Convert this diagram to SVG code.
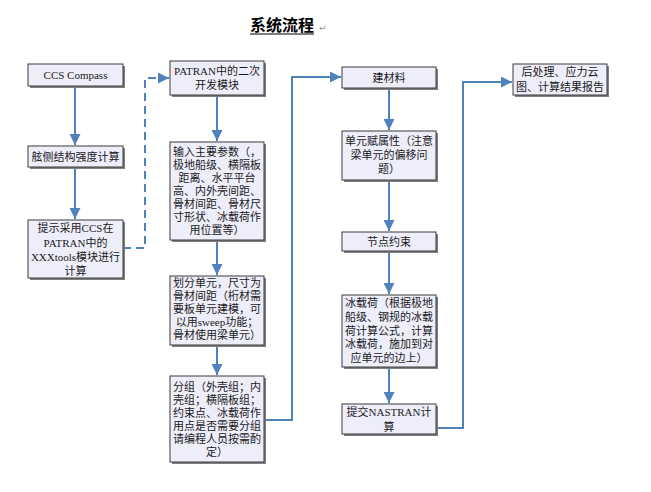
<svg xmlns="http://www.w3.org/2000/svg" width="651" height="492" viewBox="0 0 651 492">
<style>
.box{fill:#eeeefa;stroke:#3a3a3a;stroke-width:1}
.sh{fill:#7f7f7f}
.t{font-family:"Liberation Serif","Noto Sans CJK SC",serif;font-size:11px;fill:#1a1a1a;text-anchor:middle}
.c{fill:none;stroke:#4f81bd;stroke-width:2}
.d{fill:none;stroke:#4f81bd;stroke-width:2;stroke-dasharray:8,5}
</style>
<defs>
<marker id="ah" viewBox="0 0 10 10" refX="10" refY="5" markerWidth="5.5" markerHeight="5.5" orient="auto" markerUnits="strokeWidth">
<path d="M0,0 L10,5 L0,10 z" fill="#4f81bd"/>
</marker>
</defs>
<rect width="651" height="492" fill="#ffffff"/>
<g id="title">
<text x="282" y="31" font-family="'Noto Sans CJK SC','Liberation Serif',serif" font-size="16" font-weight="bold" text-anchor="middle" fill="#000">系统流程</text>
<line x1="250" y1="34" x2="314" y2="34" stroke="#000" stroke-width="1.2"/>
<text x="319" y="31" font-family="'DejaVu Sans',sans-serif" font-size="9" fill="#999">↵</text>
</g>
<g id="connectors">
<path class="c" d="M75,87 V145" marker-end="url(#ah)"/>
<path class="c" d="M75,168 V219" marker-end="url(#ah)"/>
<path class="d" d="M123,248 H145 V78 H169" marker-end="url(#ah)"/>
<path class="c" d="M217,96 V141" marker-end="url(#ah)"/>
<path class="c" d="M217,241 V275" marker-end="url(#ah)"/>
<path class="c" d="M217,346 V375" marker-end="url(#ah)"/>
<path class="c" d="M265,420 H292 V77 H341" marker-end="url(#ah)"/>
<path class="c" d="M389,89 V130" marker-end="url(#ah)"/>
<path class="c" d="M389,181 V231" marker-end="url(#ah)"/>
<path class="c" d="M389,252 V294" marker-end="url(#ah)"/>
<path class="c" d="M389,368 V403" marker-end="url(#ah)"/>
<path class="c" d="M437,428 H463 V82 H512" marker-end="url(#ah)"/>
</g>
<g id="n1"><rect class="sh" x="30" y="66" width="95" height="22"/><rect class="box" x="28" y="64" width="95" height="22"/>
<text class="t" x="75.5" y="79">CCS Compass</text></g>
<g id="n2"><rect class="sh" x="30" y="148" width="95" height="21"/><rect class="box" x="28" y="146" width="95" height="21"/>
<text class="t" x="75.5" y="160.5">舷侧结构强度计算</text></g>
<g id="n3"><rect class="sh" x="30" y="222" width="95" height="58"/><rect class="box" x="28" y="220" width="95" height="58"/>
<text class="t" x="75.5" y="232">提示采用CCS在</text>
<text class="t" x="75.5" y="246.5">PATRAN中的</text>
<text class="t" x="75.5" y="261">XXXtools模块进行</text>
<text class="t" x="75.5" y="274.5">计算</text></g>
<g id="n4"><rect class="sh" x="172" y="63" width="94" height="34"/><rect class="box" x="170" y="61" width="94" height="34"/>
<text class="t" x="217" y="75">PATRAN中的二次</text>
<text class="t" x="217" y="89">开发模块</text></g>
<g id="n5"><rect class="sh" x="172" y="144" width="94" height="98"/><rect class="box" x="170" y="142" width="94" height="98"/>
<text class="t" x="217" y="156">输入主要参数（，</text>
<text class="t" x="217" y="169">极地船级、横隔板</text>
<text class="t" x="217" y="182">距离、水平平台</text>
<text class="t" x="217" y="195">高、内外壳间距、</text>
<text class="t" x="217" y="208">骨材间距、骨材尺</text>
<text class="t" x="217" y="221">寸形状、冰载荷作</text>
<text class="t" x="217" y="234">用位置等）</text></g>
<g id="n6"><rect class="sh" x="172" y="278" width="94" height="69"/><rect class="box" x="170" y="276" width="94" height="69"/>
<text class="t" x="217" y="287">划分单元，尺寸为</text>
<text class="t" x="217" y="300">骨材间距（桁材需</text>
<text class="t" x="217" y="313">要板单元建模，可</text>
<text class="t" x="217" y="326">以用sweep功能；</text>
<text class="t" x="217" y="339">骨材使用梁单元）</text></g>
<g id="n7"><rect class="sh" x="172" y="378" width="94" height="86"/><rect class="box" x="170" y="376" width="94" height="86"/>
<text class="t" x="217" y="391">分组（外壳组；内</text>
<text class="t" x="217" y="404">壳组；横隔板组；</text>
<text class="t" x="217" y="417">约束点、冰载荷作</text>
<text class="t" x="217" y="430">用点是否需要分组</text>
<text class="t" x="217" y="443">请编程人员按需酌</text>
<text class="t" x="217" y="456">定）</text></g>
<g id="n8"><rect class="sh" x="344" y="69" width="94" height="21"/><rect class="box" x="342" y="67" width="94" height="21"/>
<text class="t" x="389" y="81.5">建材料</text></g>
<g id="n9"><rect class="sh" x="344" y="133" width="94" height="49"/><rect class="box" x="342" y="131" width="94" height="49"/>
<text class="t" x="389" y="145">单元赋属性（注意</text>
<text class="t" x="389" y="159">梁单元的偏移问</text>
<text class="t" x="389" y="172.5">题）</text></g>
<g id="n10"><rect class="sh" x="344" y="234" width="94" height="19"/><rect class="box" x="342" y="232" width="94" height="19"/>
<text class="t" x="389" y="245.5">节点约束</text></g>
<g id="n11"><rect class="sh" x="344" y="297" width="94" height="72"/><rect class="box" x="342" y="295" width="94" height="72"/>
<text class="t" x="389" y="307">冰载荷（根据极地</text>
<text class="t" x="389" y="320.8">船级、钢规的冰载</text>
<text class="t" x="389" y="334.5">荷计算公式，计算</text>
<text class="t" x="389" y="348.3">冰载荷，施加到对</text>
<text class="t" x="389" y="362">应单元的边上）</text></g>
<g id="n12"><rect class="sh" x="344" y="406" width="94" height="30"/><rect class="box" x="342" y="404" width="94" height="30"/>
<text class="t" x="389" y="416">提交NASTRAN计</text>
<text class="t" x="389" y="431">算</text></g>
<g id="n13"><rect class="sh" x="515" y="66" width="94" height="31"/><rect class="box" x="513" y="64" width="94" height="31"/>
<text class="t" x="560" y="76">后处理、应力云</text>
<text class="t" x="560" y="91">图、计算结果报告</text></g>
</svg>
